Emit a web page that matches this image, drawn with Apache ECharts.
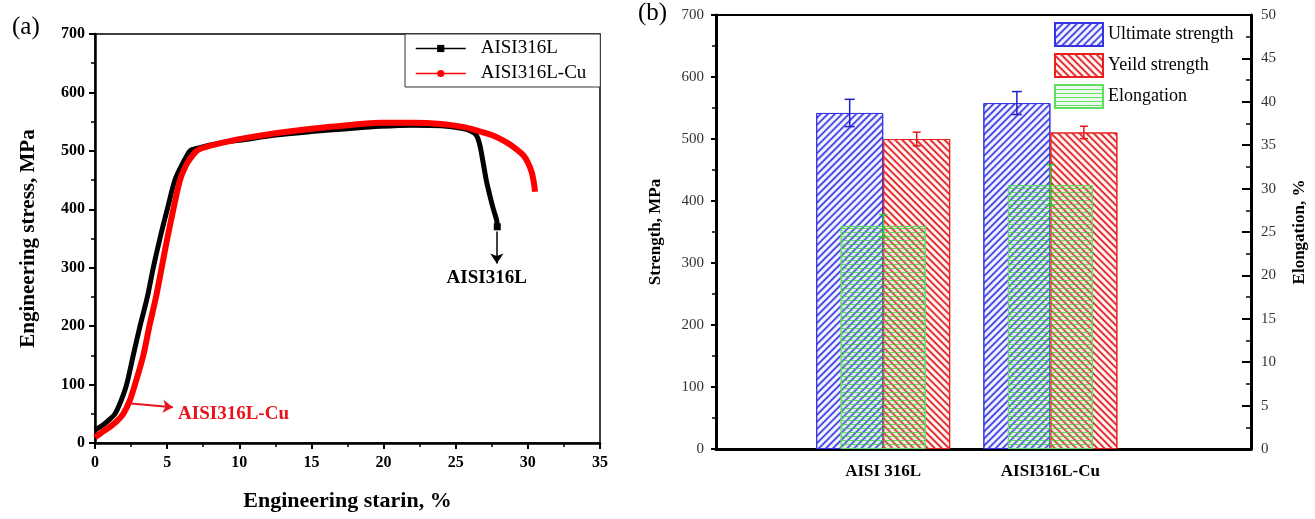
<!DOCTYPE html>
<html>
<head>
<meta charset="utf-8">
<script src="https://cdn.jsdelivr.net/npm/echarts@6/dist/echarts.min.js"></script>
<style>
html, body { margin: 0; padding: 0; background: #fff; }
#chart { width: 1315px; height: 519px; }
</style>
</head>
<body>
<div id="chart"></div>
<script>
// (a) stress-strain curves
const strain316L = [0, 0.5, 1.0, 1.39, 1.8, 2.19, 2.65, 3.12, 3.63, 4.04, 4.5, 5.01, 5.54, 6.0, 6.24, 6.58, 7.2, 8.0, 9.0, 10.0, 12.5, 15.0, 17.5, 19.75, 22.0, 24.0, 25.5, 26.1, 26.45, 26.68, 26.9, 27.14, 27.4, 27.6, 27.84, 27.88]
const stress316L = [22, 30, 40, 50, 72, 100, 150, 200, 250, 300, 350, 400, 450, 475, 486, 500, 505, 510, 515, 518, 527, 533, 538, 542, 544, 543, 538, 533, 526, 509, 480, 447, 420, 401, 381, 370]
const strainCu = [0, 0.3, 0.58, 1.0, 1.5, 1.96, 2.4, 2.77, 3.35, 3.77, 4.23, 4.62, 5.01, 5.43, 5.89, 6.3, 6.58, 7.05, 7.6, 8.5, 10, 12.5, 15, 17.5, 19.75, 22, 24, 25.5, 26.45, 27.5, 28.5, 29.2, 29.7, 30.0, 30.26, 30.4, 30.5]
const stressCu = [10, 15, 20, 27, 37, 50, 72, 100, 150, 200, 250, 300, 350, 400, 450, 475, 486, 500, 506, 512, 520, 530, 538, 544, 548, 548, 546, 541, 535, 527, 515, 503, 492, 480, 464, 448, 430]

// (b) strength / elongation bars
const categories = ['AISI 316L', 'AISI316L-Cu']
const catPos = [1, 2]
const ultimate = [542, 558]
const ultimateErr = [22, 18.5]
const yieldS = [500, 510.5]
const yieldErr = [11, 10]
const elong = [25.7, 30.4]
const elongErr = [1.3, 2.35]

const FONT = '"Liberation Serif", "DejaVu Serif", serif'
const BAR_W = 67
const ELONG_W = 85

const zip = (xs, ys) => xs.map((x, i) => [x, ys[i]])

// 误差棒
const errorBars = (offset, color, capW) => (params, api) => {
  const x = api.value(0)
  const y = api.value(1)
  const e = api.value(2)
  const top = api.coord([x, y + e])
  const bot = api.coord([x, y - e])
  const cx = top[0] + offset
  const style = { stroke: color, lineWidth: 1.5 }
  return {
    type: 'group',
    children: [
      { type: 'line', shape: { x1: cx, y1: top[1], x2: cx, y2: bot[1] }, style },
      { type: 'line', shape: { x1: cx - capW / 2, y1: top[1], x2: cx + capW / 2, y2: top[1] }, style },
      { type: 'line', shape: { x1: cx - capW / 2, y1: bot[1], x2: cx + capW / 2, y2: bot[1] }, style }
    ]
  }
}

const boldLabel = { fontFamily: FONT, fontWeight: 'bold', fontSize: 16, color: '#000' }
const plainLabel = { fontFamily: FONT, fontSize: 15, color: '#333' }

const option = {
  animation: false,
  backgroundColor: '#fff',
  title: [
    { text: '(a)', left: 7, top: 10, textStyle: { fontFamily: FONT, fontSize: 25, fontWeight: 'normal', color: '#000' } },
    { text: '(b)', left: 633, top: -4, textStyle: { fontFamily: FONT, fontSize: 25, fontWeight: 'normal', color: '#000' } }
  ],
  legend: [
    {
      data: ['AISI316L', 'AISI316L-Cu'],
      orient: 'vertical',
      left: 405,
      top: 34,
      itemWidth: 50,
      itemHeight: 9,
      itemGap: 6,
      padding: [5, 14, 4, 10],
      backgroundColor: '#fff',
      borderColor: '#333',
      borderWidth: 1,
      lineStyle: { width: 1.5 },
      textStyle: { fontFamily: FONT, fontSize: 19, color: '#000', padding: [0, 0, 0, 10] }
    },
    {
      data: ['Ultimate strength', 'Yeild strength', 'Elongation'],
      orient: 'vertical',
      left: 1054,
      top: 22,
      itemWidth: 48,
      itemHeight: 23,
      itemGap: 6,
      padding: 0,
      icon: 'rect',
      textStyle: { fontFamily: FONT, fontSize: 18, color: '#000' }
    }
  ],
  grid: [
    { left: 95, top: 34, width: 505, height: 409, show: true, borderColor: '#000', borderWidth: 1.5 },
    { left: 716, top: 15, width: 535, height: 434, show: true, borderColor: '#000', borderWidth: 2 }
  ],
  xAxis: [
    {
      gridIndex: 0,
      type: 'value',
      min: 0,
      max: 35,
      interval: 5,
      name: 'Engineering starin, %',
      nameLocation: 'middle',
      nameGap: 47,
      nameTextStyle: { fontFamily: FONT, fontWeight: 'bold', fontSize: 22, color: '#000' },
      axisLine: { onZero: false, lineStyle: { color: '#000', width: 2.5 } },
      axisTick: { length: 6, lineStyle: { width: 2 } },
      minorTick: { show: true, splitNumber: 2, length: 4, lineStyle: { color: '#000', width: 1.5 } },
      axisLabel: { ...boldLabel, margin: 12 },
      splitLine: { show: false }
    },
    {
      gridIndex: 1,
      type: 'value',
      min: 0,
      max: 3.2,
      axisLine: { onZero: false, lineStyle: { color: '#000', width: 3 } },
      axisTick: { show: false },
      axisLabel: {
        ...boldLabel,
        fontSize: 17,
        margin: 14,
        customValues: catPos,
        formatter: (v) => categories[catPos.indexOf(v)] || ''
      },
      splitLine: { show: false }
    },
    {
      gridIndex: 1,
      type: 'value',
      min: 0,
      max: 3.2,
      show: false
    }
  ],
  yAxis: [
    {
      gridIndex: 0,
      type: 'value',
      min: 0,
      max: 700,
      interval: 100,
      name: 'Engineering stress, MPa',
      nameLocation: 'middle',
      nameGap: 56,
      nameTextStyle: { fontFamily: FONT, fontWeight: 'bold', fontSize: 21, color: '#000' },
      axisLine: { show: true, onZero: false, lineStyle: { color: '#000', width: 2.5 } },
      axisTick: { length: 6, lineStyle: { width: 2 } },
      minorTick: { show: true, splitNumber: 2, length: 4, lineStyle: { color: '#000', width: 1.5 } },
      axisLabel: { ...boldLabel, margin: 10 },
      splitLine: { show: false }
    },
    {
      gridIndex: 1,
      type: 'value',
      min: 0,
      max: 700,
      interval: 100,
      name: 'Strength, MPa',
      nameLocation: 'middle',
      nameGap: 52,
      nameTextStyle: { fontFamily: FONT, fontWeight: 'bold', fontSize: 17, color: '#000' },
      axisLine: { show: true, onZero: false, lineStyle: { color: '#000', width: 3 } },
      axisTick: { length: 5, lineStyle: { width: 2 } },
      minorTick: { show: true, splitNumber: 2, length: 4, lineStyle: { color: '#000', width: 1.5 } },
      axisLabel: { ...plainLabel, margin: 12 },
      splitLine: { show: false }
    },
    {
      gridIndex: 1,
      type: 'value',
      position: 'right',
      min: 0,
      max: 50,
      interval: 5,
      name: 'Elongation, %',
      nameLocation: 'middle',
      nameRotate: 90,
      nameGap: 40,
      nameTextStyle: { fontFamily: FONT, fontWeight: 'bold', fontSize: 17, color: '#000' },
      axisLine: { show: true, onZero: false, lineStyle: { color: '#000', width: 3 } },
      axisTick: { inside: true, length: 9, lineStyle: { width: 2 } },
      minorTick: { show: true, splitNumber: 2, length: 5, lineStyle: { color: '#000', width: 1.5 } },
      axisLabel: { ...plainLabel, margin: 10 },
      splitLine: { show: false }
    }
  ],
  series: [
    {
      name: 'AISI316L',
      type: 'line',
      xAxisIndex: 0,
      yAxisIndex: 0,
      data: zip(strain316L, stress316L),
      smooth: 0.3,
      symbol: 'rect',
      symbolSize: 7,
      showSymbol: false,
      color: '#000',
      lineStyle: { color: '#000', width: 5 },
      z: 3,
      markPoint: {
        silent: true,
        data: [
          { coord: [strain316L[strain316L.length - 1], stress316L[stress316L.length - 1]], symbol: 'rect', symbolSize: 7, itemStyle: { color: '#000' }, label: { show: false } },
          {
            coord: [27.15, 282], symbol: 'rect', symbolSize: 0,
            label: { show: true, formatter: 'AISI316L', fontFamily: FONT, fontWeight: 'bold', fontSize: 19, color: '#000' }
          }
        ]
      },
      markLine: {
        silent: true,
        symbol: ['none', 'arrow'],
        symbolSize: 10,
        label: { show: false },
        lineStyle: { color: '#000', width: 1.5, type: 'solid' },
        data: [[{ coord: [27.85, 362] }, { coord: [27.85, 307] }]]
      }
    },
    {
      name: 'AISI316L-Cu',
      type: 'line',
      xAxisIndex: 0,
      yAxisIndex: 0,
      data: zip(strainCu, stressCu),
      smooth: 0.3,
      symbol: 'circle',
      symbolSize: 8,
      showSymbol: false,
      color: '#f00',
      lineStyle: { color: '#f00', width: 6 },
      z: 4,
      markPoint: {
        silent: true,
        data: [
          {
            coord: [9.6, 49], symbol: 'rect', symbolSize: 0,
            label: { show: true, formatter: 'AISI316L-Cu', fontFamily: FONT, fontWeight: 'bold', fontSize: 19, color: '#e8141b' }
          }
        ]
      },
      markLine: {
        silent: true,
        symbol: ['none', 'arrow'],
        symbolSize: 10,
        label: { show: false },
        lineStyle: { color: '#e8141b', width: 2, type: 'solid' },
        data: [[{ coord: [2.3, 68] }, { coord: [5.4, 61] }]]
      }
    },
    {
      name: 'Ultimate strength',
      type: 'bar',
      xAxisIndex: 1,
      yAxisIndex: 1,
      data: zip(catPos, ultimate),
      barWidth: BAR_W,
      barGap: '0%',
      itemStyle: {
        color: 'rgba(235,235,255,0.6)',
        borderColor: '#3434e0',
        borderWidth: 1,
        decal: { symbol: 'rect', symbolSize: 1, color: 'rgba(50,50,225,0.85)', dashArrayX: [1, 0], dashArrayY: [1.5, 2.5], rotation: -Math.PI / 4 }
      },
      z: 2
    },
    {
      name: 'Yeild strength',
      type: 'bar',
      xAxisIndex: 1,
      yAxisIndex: 1,
      data: zip(catPos, yieldS),
      barWidth: BAR_W,
      barGap: '0%',
      itemStyle: {
        color: 'rgba(255,235,235,0.6)',
        borderColor: '#e82020',
        borderWidth: 1,
        decal: { symbol: 'rect', symbolSize: 1, color: 'rgba(225,30,30,0.9)', dashArrayX: [1, 0], dashArrayY: [1.5, 2.5], rotation: Math.PI / 4 }
      },
      z: 2
    },
    {
      name: 'Elongation',
      type: 'bar',
      xAxisIndex: 2,
      yAxisIndex: 2,
      data: zip(catPos, elong),
      barWidth: ELONG_W,
      itemStyle: {
        color: 'rgba(140,230,140,0.18)',
        borderColor: '#60dc60',
        borderWidth: 1,
        decal: { symbol: 'rect', symbolSize: 1, color: 'rgba(70,210,70,0.75)', dashArrayX: [1, 0], dashArrayY: [1, 3], rotation: 0 }
      },
      z: 3
    },
    {
      type: 'custom',
      xAxisIndex: 1,
      yAxisIndex: 1,
      renderItem: errorBars(-BAR_W / 2, '#2020c8', 10),
      data: catPos.map((x, i) => [x, ultimate[i], ultimateErr[i]]),
      encode: { x: 0, y: 1 },
      z: 6,
      silent: true
    },
    {
      type: 'custom',
      xAxisIndex: 1,
      yAxisIndex: 1,
      renderItem: errorBars(BAR_W / 2, '#e01818', 8),
      data: catPos.map((x, i) => [x, yieldS[i], yieldErr[i]]),
      encode: { x: 0, y: 1 },
      z: 6,
      silent: true
    },
    {
      type: 'custom',
      xAxisIndex: 2,
      yAxisIndex: 2,
      renderItem: errorBars(0, '#30c830', 8),
      data: catPos.map((x, i) => [x, elong[i], elongErr[i]]),
      encode: { x: 0, y: 1 },
      z: 6,
      silent: true
    }
  ]
}

const chart = echarts.init(document.getElementById('chart'))
chart.setOption(option)
</script>
</body>
</html>
